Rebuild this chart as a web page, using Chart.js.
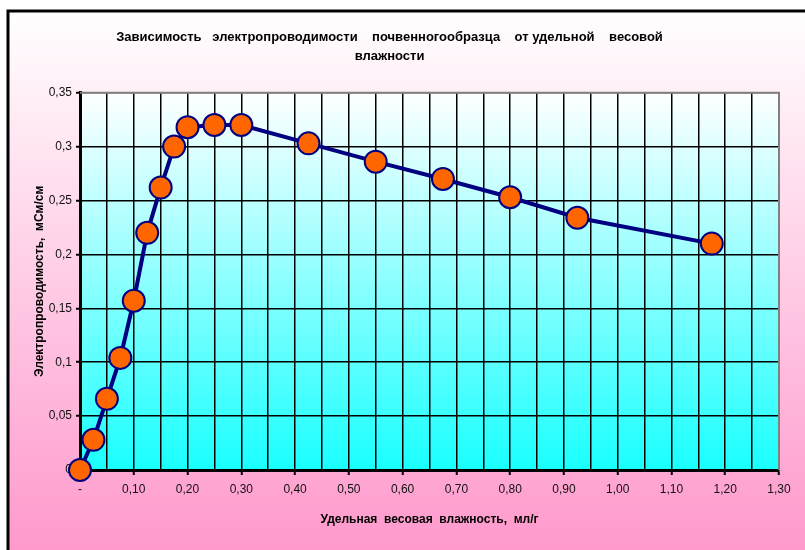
<!DOCTYPE html>
<html>
<head>
<meta charset="utf-8">
<script src="https://cdn.jsdelivr.net/npm/chart.js@4/dist/chart.umd.min.js"></script>
<style>
  body { margin: 0; background: #fff; }
  #chart { display: block; }
</style>
</head>
<body>
<canvas id="chart" width="805" height="550"></canvas>
<script>
// удельная весовая влажность, мл/г
const moisture = [0, 0.025, 0.05, 0.075, 0.1, 0.125, 0.15, 0.175, 0.2, 0.25, 0.3, 0.425, 0.55, 0.675, 0.8, 0.925, 1.175];
// электропроводимость, мСм/см
const conductivity = [0, 0.028, 0.066, 0.104, 0.157, 0.22, 0.262, 0.3, 0.318, 0.32, 0.32, 0.303, 0.286, 0.27, 0.253, 0.234, 0.21];

const xTickLabels = ['-', '0,10', '0,20', '0,30', '0,40', '0,50', '0,60', '0,70', '0,80', '0,90', '1,00', '1,10', '1,20', '1,30'];
const yTickLabels = ['0', '0,05', '0,1', '0,15', '0,2', '0,25', '0,3', '0,35'];

const titleLines = ['Зависимость   электропроводимости    почвенногообразца    от удельной    весовой', 'влажности'];
const xTitle = 'Удельная  весовая  влажность,  мл/г';
const yTitle = 'Электропроводимость,  мСм/см';

const FONT = 'Arial, "Liberation Sans", sans-serif';

const backgroundPlugin = {
    id: 'backgrounds',
    beforeDraw(chart) {
        const ctx = chart.ctx;
        const w = chart.width, h = chart.height;
        const area = chart.chartArea;
        ctx.save();
        ctx.fillStyle = '#ffffff';
        ctx.fillRect(0, 0, w, h);

        // outer frame fill
        const outer = ctx.createLinearGradient(0, 11, 0, h);
        outer.addColorStop(0, '#ffffff');
        outer.addColorStop(1, '#ff99cc');
        ctx.fillStyle = outer;
        ctx.fillRect(8, 11, w - 8, h - 11);

        ctx.strokeStyle = '#000';
        ctx.lineWidth = 3;
        ctx.beginPath();
        ctx.moveTo(8, h);
        ctx.lineTo(8, 11);
        ctx.lineTo(w, 11);
        ctx.stroke();

        // plot area fill
        const inner = ctx.createLinearGradient(0, area.top, 0, area.bottom);
        inner.addColorStop(0, '#ffffff');
        inner.addColorStop(1, '#19ffff');
        ctx.fillStyle = inner;
        ctx.fillRect(area.left, area.top, area.right - area.left, area.bottom - area.top);
        ctx.restore();
    },
    beforeDatasetsDraw(chart) {
        const ctx = chart.ctx;
        const area = chart.chartArea;
        ctx.save();
        ctx.strokeStyle = '#808080';
        ctx.lineWidth = 2;
        ctx.beginPath();
        ctx.moveTo(area.left, area.top);
        ctx.lineTo(area.right, area.top);
        ctx.lineTo(area.right, area.bottom);
        ctx.stroke();
        ctx.restore();
    }
};

new Chart(document.getElementById('chart'), {
    type: 'scatter',
    data: {
        datasets: [{
            data: moisture.map((x, i) => ({ x: x, y: conductivity[i] })),
            showLine: true,
            tension: 0,
            borderColor: '#000080',
            borderWidth: 4,
            pointRadius: 11,
            pointHoverRadius: 11,
            pointBackgroundColor: '#ff6600',
            pointBorderColor: '#000080',
            pointBorderWidth: 2,
            clip: false
        }]
    },
    options: {
        responsive: false,
        animation: false,
        layout: { padding: { top: 0, left: 0, right: 26, bottom: 0 } },
        plugins: {
            legend: { display: false },
            tooltip: { enabled: false },
            title: {
                display: true,
                text: titleLines,
                color: '#000',
                font: { family: FONT, size: 13, weight: 'bold', lineHeight: 1.45 },
                padding: { top: 28, bottom: 27 }
            }
        },
        scales: {
            x: {
                type: 'linear',
                min: 0,
                max: 1.3,
                afterFit: function(scale) { scale.height = 80; },
                ticks: {
                    stepSize: 0.05,
                    autoSkip: false,
                    maxRotation: 0,
                    padding: 7,
                    color: '#111',
                    font: { family: FONT, size: 12 },
                    callback: function(value, index) {
                        return index % 2 === 0 ? xTickLabels[index / 2] : '';
                    }
                },
                grid: {
                    color: ctx => ctx.index === 26 ? '#808080' : '#000',
                    lineWidth: 1.5,
                    tickLength: 5,
                    tickColor: ctx => ctx.index % 2 === 0 ? '#000' : 'rgba(0,0,0,0)',
                    tickWidth: 2
                },
                border: { color: '#000', width: 3 },
                title: {
                    display: true,
                    text: xTitle,
                    color: '#000',
                    font: { family: FONT, size: 12, weight: 'bold' },
                    padding: { top: 0, bottom: 23 }
                }
            },
            y: {
                min: 0,
                max: 0.35,
                afterFit: function(scale) { scale.width = 80; },
                ticks: {
                    stepSize: 0.05,
                    padding: 4,
                    color: '#111',
                    font: { family: FONT, size: 12 },
                    callback: function(value, index) {
                        return yTickLabels[index];
                    }
                },
                grid: {
                    color: ctx => ctx.index === 7 ? '#808080' : '#000',
                    lineWidth: 1.5,
                    tickLength: 4,
                    tickColor: '#000',
                    tickWidth: 2
                },
                border: { color: '#000', width: 3 },
                title: {
                    display: true,
                    text: yTitle,
                    color: '#000',
                    font: { family: FONT, size: 12, weight: 'bold' },
                    padding: { top: 32, bottom: 0 }
                }
            }
        }
    },
    plugins: [backgroundPlugin]
});
</script>
</body>
</html>
